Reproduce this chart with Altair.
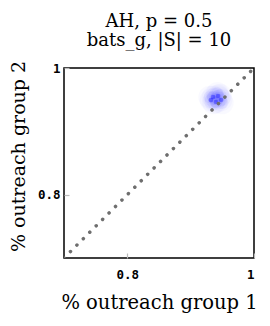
import altair as alt
import pandas as pd

# diagonal reference line
diag_vals = [0.7, 1.0]

# blob sample points (hand-read around the dense region)
blob_x = [0.9353, 0.9432, 0.9400, 0.9479, 0.9321, 0.9380, 0.9450, 0.9300, 0.9500, 0.9420, 0.9360, 0.9470]
blob_y = [0.9542, 0.9558, 0.9463, 0.9495, 0.9495, 0.9510, 0.9530, 0.9540, 0.9450, 0.9600, 0.9450, 0.9570]

tick_vals = [0.8, 1.0]

diag_df = pd.DataFrame({"x": diag_vals, "y": diag_vals})
blob_df = pd.DataFrame({"x": blob_x, "y": blob_y})

SERIF = "DejaVu Serif"
MONO = "DejaVu Sans Mono"

xscale = alt.Scale(domain=[0.7, 1.0], nice=False, zero=False)
yscale = alt.Scale(domain=[0.7, 1.0], nice=False, zero=False)

xaxis = alt.Axis(
    orient="bottom",
    values=tick_vals, format="~g", title="% outreach group 1",
    titleFont=SERIF, titleFontSize=19.5, titleFontWeight="normal", titleColor="black",
    titleX=95, titleY=50, titleBaseline="alphabetic",
    labelFont=MONO, labelFontSize=12.5, labelFontWeight="bold", labelColor="black",
    labelPadding=10, ticks=False, domain=False, grid=False,
)
yaxis = alt.Axis(
    orient="left",
    values=tick_vals, format="~g", title="% outreach group 2",
    titleFont=SERIF, titleFontSize=19, titleFontWeight="normal", titleColor="black",
    titleX=-40, titleY=88, titleBaseline="alphabetic", titleAngle=-90,
    labelFont=MONO, labelFontSize=12.5, labelFontWeight="bold", labelColor="black",
    labelPadding=4, ticks=False, domain=False, grid=False,
)

blob_big = alt.Chart(blob_df).mark_circle(color="#0000ff", opacity=0.022, size=520).encode(
    x=alt.X("x:Q", scale=xscale, axis=xaxis),
    y=alt.Y("y:Q", scale=yscale, axis=yaxis),
)
blob_mid = alt.Chart(blob_df).mark_circle(color="#0000ff", opacity=0.045, size=150).encode(
    x=alt.X("x:Q", scale=xscale, axis=None), y=alt.Y("y:Q", scale=yscale, axis=None)
)
blob_core = alt.Chart(blob_df.iloc[:5]).mark_circle(color="#0000ff", opacity=0.35, size=22).encode(
    x=alt.X("x:Q", scale=xscale, axis=None), y=alt.Y("y:Q", scale=yscale, axis=None)
)

diag = alt.Chart(diag_df).mark_line(
    color="#6e6e6e", strokeWidth=3.5, strokeDash=[0.1, 9], strokeCap="round", clip=True
).encode(x=alt.X("x:Q", scale=xscale, axis=None), y=alt.Y("y:Q", scale=yscale, axis=None))

tick_df = pd.DataFrame({"v": tick_vals})
xticks = alt.Chart(tick_df).mark_point(opacity=0).encode(
    x=alt.X("v:Q", scale=xscale, axis=alt.Axis(orient="bottom", offset=-5, tickSize=5, tickColor="#bbbbbb",
                                                 tickWidth=1.2, labels=False, domain=False, grid=False, title=None, values=tick_vals)),
)
yticks = alt.Chart(tick_df).mark_point(opacity=0).encode(
    y=alt.Y("v:Q", scale=yscale, axis=alt.Axis(orient="left", offset=-5, tickSize=5, tickColor="#bbbbbb",
                                                 tickWidth=1.2, labels=False, domain=False, grid=False, title=None, values=tick_vals)),
)

chart = alt.layer(blob_big, blob_mid, blob_core, diag, xticks, yticks).resolve_axis(
    x="independent", y="independent"
).properties(
    width=190, height=190,
    title=alt.TitleParams(
        text=["AH, p = 0.5", "bats_g, |S| = 10"], font=SERIF, fontSize=18,
        fontWeight="normal", color="black", lineHeight=19, offset=10, anchor="middle",
    ),
    autosize=alt.AutoSizeParams(type="none"),
    padding={"left": 56, "top": 60, "right": 8, "bottom": 60},
).configure_view(stroke="black", strokeWidth=1.5)

chart.save("out.html", embed_options={"renderer": "svg", "actions": False})
